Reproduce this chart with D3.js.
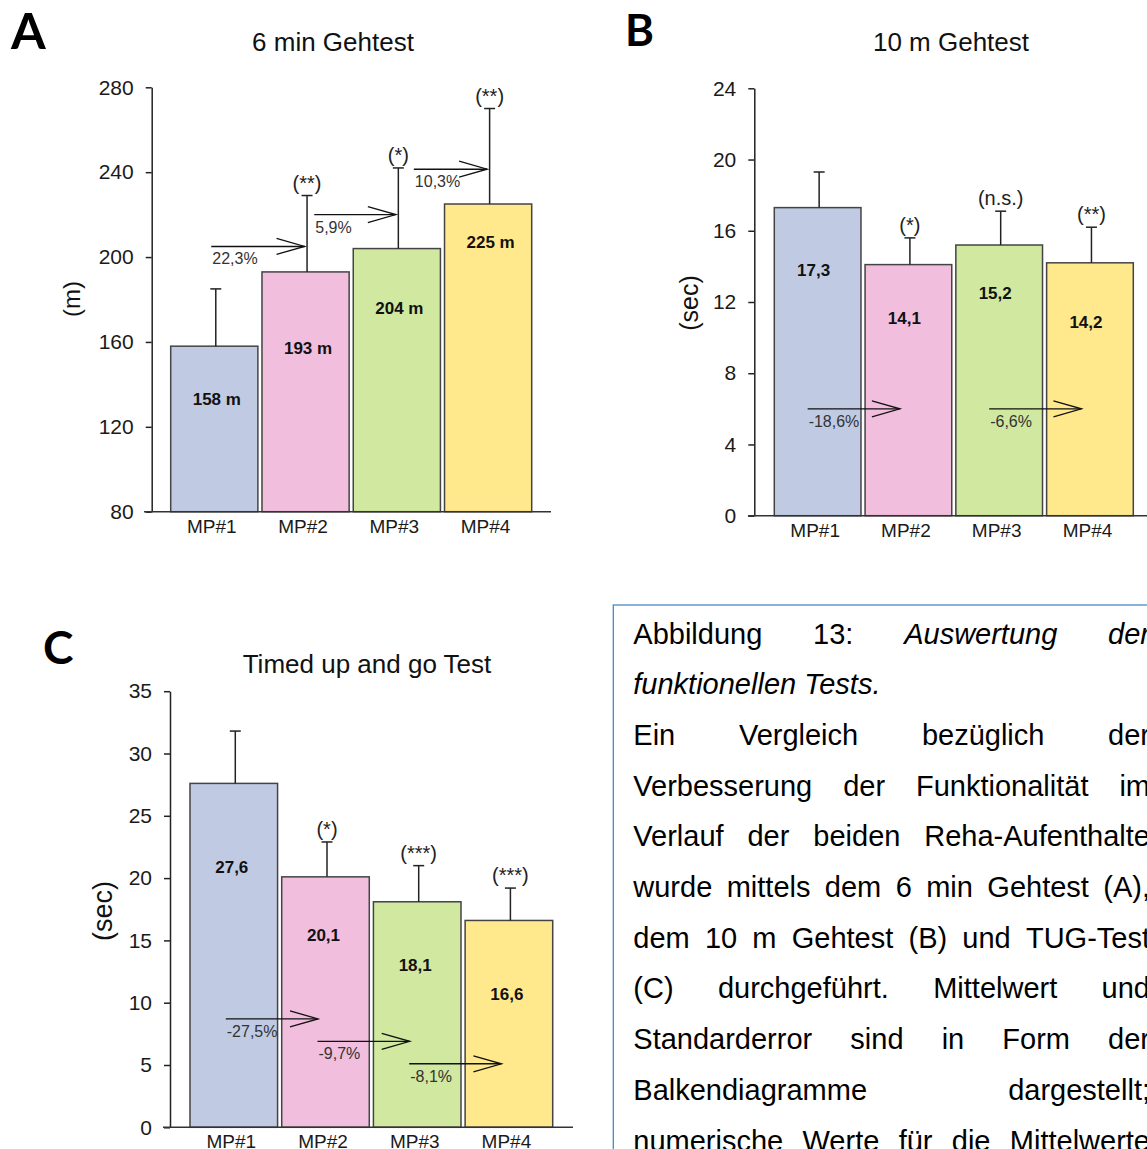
<!DOCTYPE html>
<html>
<head>
<meta charset="utf-8">
<script src="https://cdn.jsdelivr.net/npm/d3@7"></script>
<style>
  body { margin: 0; background: #fff; }
  svg { display: block; }
  text { font-family: "Liberation Sans", Arial, sans-serif; }
</style>
</head>
<body>
<svg id="fig" width="1147" height="1149"></svg>
<script>
/******************************* data *******************************/
var categories = ['MP#1', 'MP#2', 'MP#3', 'MP#4'];
var barColors = ['#c0cbe3', '#f1bedd', '#d0e8a0', '#ffe98c'];

// A: 6 min Gehtest (m)
var walk6Mean   = [158, 193, 204, 225];
var walk6SE     = [27, 36, 38, 45];
var walk6Sig    = ['', '(**)', '(*)', '(**)'];
var walk6Change = ['22,3%', '5,9%', '10,3%'];
var walk6ArrowAt = [205, 220, 241.4];
var walk6Pairs  = [[0, 1], [1, 2], [2, 3]];
var walk6Ticks  = [80, 120, 160, 200, 240, 280];

// B: 10 m Gehtest (sec)
var walk10Mean   = [17.3, 14.1, 15.2, 14.2];
var walk10SE     = [2.0, 1.5, 1.9, 2.0];
var walk10Sig    = ['', '(*)', '(n.s.)', '(**)'];
var walk10Change = ['-18,6%', '-6,6%'];
var walk10ArrowAt = [6.0, 6.0];
var walk10Pairs  = [[0, 1], [2, 3]];
var walk10Ticks  = [0, 4, 8, 12, 16, 20, 24];

// C: Timed up and go Test (sec)
var tugMean   = [27.6, 20.1, 18.1, 16.6];
var tugSE     = [4.2, 2.8, 2.9, 2.6];
var tugSig    = ['', '(*)', '(***)', '(***)'];
var tugChange = ['-27,5%', '-9,7%', '-8,1%'];
var tugArrowAt = [8.7, 6.9, 5.1];
var tugPairs  = [[0, 1], [1, 2], [2, 3]];
var tugTicks  = [0, 5, 10, 15, 20, 25, 30, 35];

var captionLines = [
  { words: ['Abbildung', '13:', 'Auswertung', 'der'], italicFrom: 2, justify: true },
  { words: ['funktionellen', 'Tests.'], italicFrom: 0, justify: false },
  { words: ['Ein', 'Vergleich', 'bezüglich', 'der'], justify: true },
  { words: ['Verbesserung', 'der', 'Funktionalität', 'im'], justify: true },
  { words: ['Verlauf', 'der', 'beiden', 'Reha-Aufenthalte'], justify: true },
  { words: ['wurde', 'mittels', 'dem', '6', 'min', 'Gehtest', '(A),'], justify: true },
  { words: ['dem', '10', 'm', 'Gehtest', '(B)', 'und', 'TUG-Test'], justify: true },
  { words: ['(C)', 'durchgeführt.', 'Mittelwert', 'und'], justify: true },
  { words: ['Standarderror', 'sind', 'in', 'Form', 'der'], justify: true },
  { words: ['Balkendiagramme', 'dargestellt;'], justify: true },
  { words: ['numerische', 'Werte', 'für', 'die', 'Mittelwerte'], justify: true }
];
/********************************************************************/

var svg = d3.select('#fig');
var comma = function(v) { return d3.format('.1f')(v).replace('.', ','); };

function drawPanel(p) {
  var g = svg.append('g');
  var x = d3.scaleBand().domain(categories).range(p.xRange).paddingInner(0.045).paddingOuter(0);
  var y = d3.scaleLinear().domain(p.domain).range(p.yRange);
  var cx = function(i) { return x(categories[i]) + x.bandwidth() / 2; };
  var base = y(p.domain[0]);

  // bars
  g.selectAll('rect.bar').data(p.mean).enter().append('rect')
    .attr('class', 'bar')
    .attr('x', function(d, i) { return x(categories[i]); })
    .attr('y', function(d) { return y(d); })
    .attr('width', x.bandwidth())
    .attr('height', function(d) { return base - y(d); })
    .attr('fill', function(d, i) { return barColors[i]; })
    .attr('stroke', '#444').attr('stroke-width', 1.5);

  // upper error whiskers
  p.mean.forEach(function(m, i) {
    var ex = cx(i) + 1.5, top = y(m + p.se[i]);
    g.append('line').attr('x1', ex).attr('x2', ex).attr('y1', y(m)).attr('y2', top)
      .attr('stroke', '#222').attr('stroke-width', 1.5);
    g.append('line').attr('x1', ex - 5.5).attr('x2', ex + 5.5).attr('y1', top).attr('y2', top)
      .attr('stroke', '#222').attr('stroke-width', 1.5);
    if (p.sig[i]) {
      g.append('text').attr('x', ex).attr('y', top - 6)
        .attr('text-anchor', 'middle').attr('font-size', 20).attr('fill', '#222')
        .text(p.sig[i]);
    }
    g.append('text').attr('x', cx(i) + p.labelDx).attr('y', y(p.labelAt[i]))
      .attr('dy', '0.35em').attr('text-anchor', 'middle')
      .attr('font-size', 17).attr('font-weight', 'bold').attr('fill', '#111')
      .text(p.fmt(m));
  });

  // y axis
  var ax = g.append('g')
    .attr('transform', 'translate(' + p.axisX + ',0)')
    .call(d3.axisLeft(y).tickValues(p.ticks).tickSize(6).tickSizeOuter(0).tickPadding(12));
  ax.attr('font-family', null).attr('font-size', null).style('color', '#222');
  ax.selectAll('path, line').attr('stroke-width', 1.5);
  ax.selectAll('text').attr('font-size', 21).attr('fill', '#1a1a1a');

  // x axis (plain line) + category labels
  g.append('line').attr('x1', p.xLine[0]).attr('x2', p.xLine[1]).attr('y1', base).attr('y2', base)
    .attr('stroke', '#333').attr('stroke-width', 1.5);
  g.selectAll('text.cat').data(categories).enter().append('text')
    .attr('class', 'cat')
    .attr('x', function(d, i) { return cx(i) - 2.5; })
    .attr('y', base + 21)
    .attr('text-anchor', 'middle').attr('font-size', 19).attr('fill', '#1a1a1a')
    .text(function(d) { return d; });

  // change arrows between visits
  p.pairs.forEach(function(pr, k) {
    var x0 = cx(pr[0]) + p.arrowStart[k], x1 = cx(pr[1]) + p.arrowEnd, ay = y(p.arrowAt[k]);
    g.append('line').attr('x1', x0).attr('x2', x1).attr('y1', ay).attr('y2', ay)
      .attr('stroke', '#111').attr('stroke-width', 1.4);
    g.append('path')
      .attr('d', 'M' + (x1 - 28) + ',' + (ay - 8) + 'L' + x1 + ',' + ay + 'L' + (x1 - 28) + ',' + (ay + 8))
      .attr('fill', 'none').attr('stroke', '#111').attr('stroke-width', 1.3);
    g.append('text').attr('x', x0 + 1).attr('y', ay + 18)
      .attr('font-size', 16).attr('fill', '#333')
      .text(p.change[k]);
  });

  // titles
  g.append('text').attr('x', p.title[1]).attr('y', p.title[2])
    .attr('text-anchor', 'middle').attr('font-size', 26).attr('fill', '#111')
    .text(p.title[0]);
  g.append('text').attr('x', p.letter[1]).attr('y', p.letter[2])
    .style('font-family', 'Lato, "Open Sans", sans-serif')
    .attr('font-weight', 'bold').attr('font-size', p.letter[3]).attr('fill', '#000')
    .text(p.letter[0]);
  g.append('text')
    .attr('transform', 'translate(' + p.yTitle[1] + ',' + p.yTitle[2] + ') rotate(-90)')
    .attr('text-anchor', 'middle').attr('dy', '0.35em')
    .attr('font-size', p.yTitle[3]).attr('fill', '#111')
    .text(p.yTitle[0]);
}

drawPanel({
  mean: walk6Mean, se: walk6SE, sig: walk6Sig, change: walk6Change,
  arrowAt: walk6ArrowAt, pairs: walk6Pairs, ticks: walk6Ticks,
  domain: [80, 280], fmt: function(v) { return v + ' m'; },
  xRange: [170.7, 531.7], yRange: [511.7, 87.3], axisX: 151.7, xLine: [144, 551],
  labelAt: [133, 157, 176, 207], labelDx: 2.5,
  arrowStart: [-3, 8.7, 17], arrowEnd: -1,
  title: ['6 min Gehtest', 333, 51], letter: ['A', 11, 49, 50], yTitle: ['(m)', 72, 299, 24]
});

drawPanel({
  mean: walk10Mean, se: walk10SE, sig: walk10Sig, change: walk10Change,
  arrowAt: walk10ArrowAt, pairs: walk10Pairs, ticks: walk10Ticks,
  domain: [0, 24], fmt: comma,
  xRange: [774.3, 1133.3], yRange: [515.7, 88.3], axisX: 754.3, xLine: [748, 1160],
  labelAt: [13.8, 11.1, 12.5, 10.9], labelDx: -4,
  arrowStart: [-10, -10], arrowEnd: -8.5,
  title: ['10 m Gehtest', 951, 51], letter: ['B', 625, 46, 44], yTitle: ['(sec)', 689, 303, 25]
});

drawPanel({
  mean: tugMean, se: tugSE, sig: tugSig, change: tugChange,
  arrowAt: tugArrowAt, pairs: tugPairs, ticks: tugTicks,
  domain: [0, 35], fmt: comma,
  xRange: [190, 552.7], yRange: [1127.3, 691.2], axisX: 170, xLine: [163, 573],
  labelAt: [20.9, 15.4, 13.0, 10.7], labelDx: -2,
  arrowStart: [-8, -8, -8], arrowEnd: -7.5,
  title: ['Timed up and go Test', 367, 673], letter: ['C', 43, 664, 46], yTitle: ['(sec)', 103, 911, 27]
});

/************************ caption box ************************/
(function drawCaption() {
  var left = 633.3, right = 1150, top0 = 643.5, lineH = 50.7;
  svg.append('rect').attr('x', 613.3).attr('y', 605).attr('width', 600).attr('height', 600)
    .attr('fill', 'none').attr('stroke', '#4a89c8').attr('stroke-width', 1.3);
  captionLines.forEach(function(line, li) {
    var yy = top0 + li * lineH;
    var nodes = line.words.map(function(w, wi) {
      var it = line.italicFrom !== undefined && wi >= line.italicFrom;
      return svg.append('text').attr('y', yy).attr('font-size', 29).attr('fill', '#000')
        .attr('font-style', it ? 'italic' : null).text(w);
    });
    var widths = nodes.map(function(n) { return n.node().getComputedTextLength(); });
    var total = d3.sum(widths);
    var gap = line.justify && nodes.length > 1 ? (right - left - total) / (nodes.length - 1) : 8;
    var cur = left;
    nodes.forEach(function(n, i) { n.attr('x', cur); cur += widths[i] + gap; });
  });
})();
</script>
</body>
</html>
